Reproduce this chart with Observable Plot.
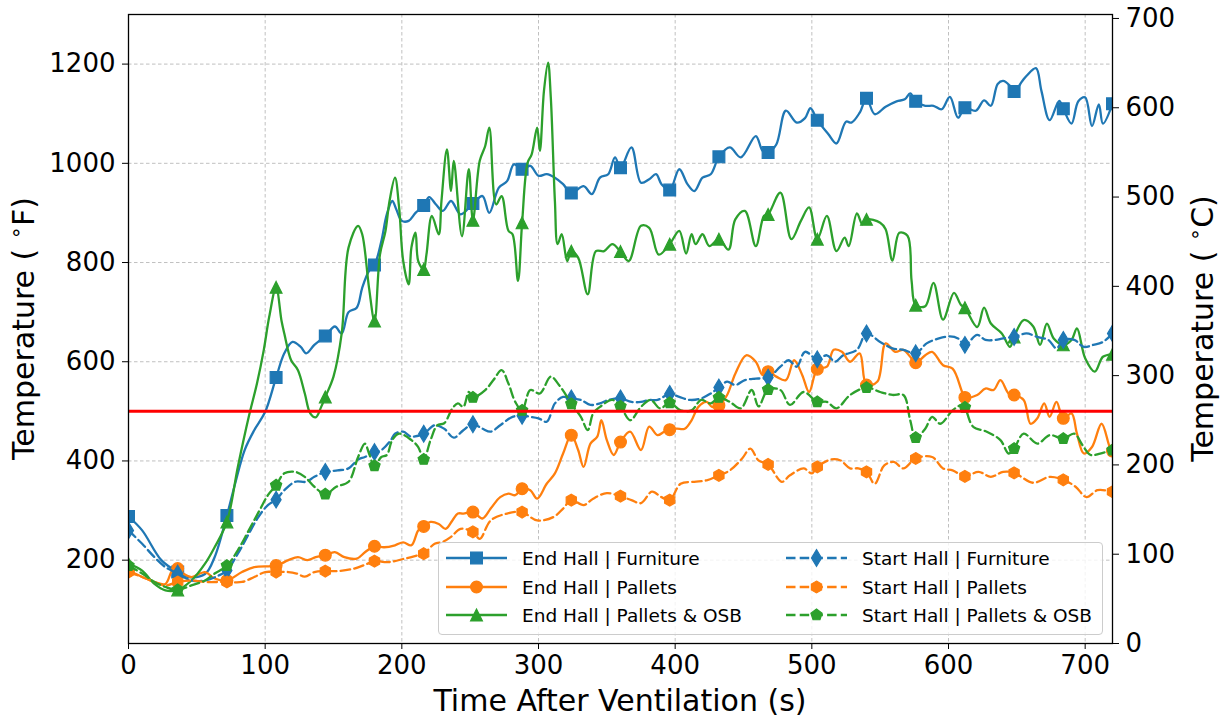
<!DOCTYPE html>
<html>
<head>
<meta charset="utf-8">
<script src="https://cdn.jsdelivr.net/npm/d3@7"></script>
<script src="https://cdn.jsdelivr.net/npm/@observablehq/plot@0.6"></script>
<style>
  body { margin: 0; background: #fff; font-family: "DejaVu Sans", sans-serif; }
  #chart { position: relative; width: 1225px; height: 719px; }
  #legend {
    position: absolute; left: 438px; top: 542px; width: 665px; height: 93px;
    box-sizing: border-box; border: 1px solid #cccccc; border-radius: 4px;
    background: rgba(255, 255, 255, 0.8);
  }
  .item { position: absolute; height: 28px; display: flex; align-items: center; }
  .item span { font-size: 18.5px; color: #000; white-space: nowrap; }
  .item svg { position: absolute; top: 0; }
</style>
</head>
<body>
<div id="chart"></div>
<script>
// Gas temperatures (°F) against time after ventilation (s), [time, temperature]
const endFurniture = [[0,288],[10,260],[24,200],[36,176],[44,166],[56,172],[63,206],[72,290],[78,354],[85,422],[92,462],[100,499],[108,568],[114,617],[120,640],[126,630],[130,617],[136,634],[144,652],[151,671],[156,657],[161,700],[167,709],[171,749],[176,783],[180,795],[185,843],[189,897],[193,924],[196,907],[200,884],[205,884],[210,900],[216,915],[220,932],[225,917],[230,904],[236,924],[243,897],[252,919],[259,934],[264,900],[271,951],[277,964],[282,998],[288,988],[294,995],[300,975],[306,978],[312,971],[318,958],[324,940],[333,954],[339,938],[345,971],[351,978],[356,1012],[360,991],[368,1032],[375,961],[381,968],[386,978],[390,958],[396,946],[403,988],[409,958],[414,944],[420,971],[426,978],[432,1013],[440,1032],[448,1012],[459,1055],[464,1025],[468,1022],[474,1038],[481,1106],[489,1082],[495,1091],[499,1111],[504,1087],[512,1059],[518,1040],[525,1084],[529,1082],[535,1102],[540,1131],[546,1099],[554,1114],[562,1125],[568,1129],[572,1141],[576,1125],[583,1116],[589,1116],[595,1109],[601,1134],[607,1092],[612,1112],[620,1106],[626,1127],[631,1116],[636,1160],[640,1166],[645,1156],[648,1145],[654,1166],[657,1176],[664,1192],[668,1146],[674,1087],[681,1126],[684,1110],[690,1080],[695,1125],[700,1133],[705,1075],[710,1119],[713,1080],[720,1120]];

const endPallets = [[0,179],[10,166],[19,156],[27,152],[32,179],[36,183],[40,173],[46,166],[56,176],[63,163],[72,159],[83,176],[92,186],[108,189],[117,200],[124,206],[131,200],[137,206],[144,210],[151,216],[158,206],[167,203],[173,216],[180,228],[187,226],[195,230],[201,236],[207,230],[212,260],[216,268],[221,277],[227,273],[232,263],[237,280],[241,294],[245,294],[252,297],[259,284],[265,304],[272,327],[278,334],[283,331],[288,344],[294,341],[299,324],[306,354],[312,375],[318,415],[324,452],[329,422],[333,388],[338,435],[343,449],[346,482],[350,442],[355,412],[360,438],[367,459],[375,422],[381,469],[387,452],[392,459],[396,463],[401,465],[407,465],[412,482],[417,509],[423,519],[427,509],[432,512],[438,533],[444,576],[452,613],[459,600],[464,573],[468,580],[474,570],[481,563],[487,603],[493,573],[498,539],[504,585],[511,590],[516,624],[522,620],[528,600],[535,617],[540,553],[548,560],[554,637],[561,620],[567,624],[572,610],[576,598],[583,613],[588,620],[596,593],[603,586],[610,539],[612,528],[621,533],[627,546],[633,543],[638,563],[644,536],[648,533],[655,523],[660,475],[665,486],[670,516],[674,489],[679,519],[684,486],[690,496],[694,455],[699,415],[705,428],[712,475],[718,428],[720,420]];

const endPalletsOsb = [[0,193],[10,179],[19,152],[27,139],[36,140],[46,159],[56,193],[63,226],[72,277],[80,388],[88,489],[94,556],[99,624],[103,691],[108,750],[112,682],[114,657],[119,603],[124,583],[129,536],[133,496],[137,488],[141,509],[144,529],[150,570],[156,657],[161,830],[168,874],[171,857],[176,749],[180,682],[184,816],[188,863],[191,924],[195,971],[198,911],[201,803],[205,756],[207,830],[210,860],[212,803],[216,786],[218,816],[222,894],[227,857],[229,924],[233,1028],[236,944],[238,1005],[244,853],[249,988],[252,885],[257,1005],[261,1035],[264,1072],[269,917],[273,934],[278,864],[281,857],[285,763],[288,880],[292,1001],[295,1018],[299,1072],[301,1025],[304,1146],[307,1203],[309,1133],[312,924],[314,837],[317,857],[321,803],[324,823],[329,810],[336,736],[342,823],[348,823],[354,837],[360,822],[366,803],[375,874],[381,870],[388,816],[396,837],[403,864],[408,818],[412,857],[415,837],[420,857],[425,833],[432,847],[439,826],[444,887],[451,904],[459,833],[465,894],[468,897],[477,941],[485,847],[492,884],[498,911],[504,847],[511,894],[518,823],[524,850],[527,833],[533,899],[537,877],[540,887],[550,880],[554,867],[559,804],[564,860],[570,854],[573,763],[576,714],[583,712],[589,759],[596,685],[604,739],[609,715],[612,709],[621,670],[626,709],[631,677],[639,657],[645,630],[648,650],[655,684],[662,671],[667,634],[672,677],[677,647],[684,634],[690,644],[694,667],[700,607],[707,580],[713,610],[720,615]];

const startFurniture = [[0,260],[10,233],[19,206],[27,186],[36,173],[46,159],[56,159],[66,169],[72,179],[80,213],[88,253],[95,287],[102,311],[108,322],[114,341],[122,358],[130,358],[136,368],[144,378],[153,381],[161,385],[168,403],[173,408],[180,418],[185,422],[192,442],[195,455],[201,459],[207,449],[216,455],[224,472],[231,465],[238,447],[245,462],[252,474],[259,465],[265,459],[272,472],[281,489],[288,491],[294,489],[300,486],[306,479],[312,516],[318,529],[324,526],[331,523],[338,513],[345,516],[351,523],[360,526],[368,519],[375,519],[381,523],[387,523],[396,535],[403,529],[411,523],[419,526],[426,536],[432,548],[438,560],[444,553],[451,563],[459,566],[468,568],[477,590],[483,603],[489,590],[495,620],[504,605],[511,613],[517,600],[523,613],[533,624],[540,657],[550,640],[559,627],[567,624],[576,617],[584,637],[593,647],[601,651],[607,647],[612,634],[621,654],[627,644],[634,644],[640,647],[648,650],[657,657],[665,650],[673,644],[679,627],[684,644],[692,644],[699,630],[706,634],[713,640],[720,657]];

const startPallets = [[0,176],[10,166],[19,156],[27,149],[36,156],[46,159],[56,156],[63,156],[72,156],[83,156],[92,166],[100,176],[108,176],[117,176],[123,173],[129,167],[136,176],[144,178],[153,178],[165,183],[175,193],[180,198],[190,196],[202,203],[212,210],[216,213],[224,233],[230,237],[236,247],[243,263],[252,257],[257,243],[265,280],[277,294],[288,297],[299,280],[311,287],[318,304],[324,321],[333,311],[340,324],[350,335],[360,329],[368,321],[375,315],[383,338],[390,327],[396,321],[404,354],[414,358],[423,361],[432,371],[440,381],[449,405],[455,425],[461,401],[468,393],[478,358],[484,371],[494,385],[500,375],[504,388],[514,403],[521,401],[528,385],[534,385],[540,378],[546,354],[553,391],[560,398],[567,385],[576,405],[588,408],[596,385],[603,381],[612,369],[622,378],[631,368],[640,378],[648,376],[662,356],[674,368],[684,362],[693,348],[701,327],[709,341],[720,338]];

const startPalletsOsb = [[0,189],[10,173],[19,156],[27,146],[36,140],[46,149],[56,159],[63,173],[72,189],[80,220],[88,260],[96,301],[102,331],[108,351],[114,375],[122,378],[129,368],[136,348],[144,333],[152,348],[161,358],[168,408],[173,435],[176,415],[180,390],[185,408],[189,412],[193,442],[198,455],[207,442],[212,428],[216,403],[221,442],[226,472],[231,476],[237,506],[241,516],[245,509],[249,539],[252,528],[261,543],[267,563],[273,583],[278,556],[283,519],[288,502],[294,543],[301,536],[309,570],[315,553],[321,529],[324,515],[331,489],[336,462],[340,496],[345,509],[354,523],[360,510],[367,482],[375,509],[382,523],[389,506],[396,517],[404,502],[412,502],[419,523],[426,516],[432,528],[440,519],[448,506],[456,543],[461,510],[468,544],[477,543],[484,513],[494,539],[504,519],[511,519],[518,506],[528,533],[540,548],[550,539],[559,533],[567,533],[572,482],[576,447],[583,465],[588,489],[594,475],[603,502],[610,513],[612,508],[618,469],[628,459],[638,442],[644,415],[648,425],[655,455],[665,435],[674,452],[684,445],[692,455],[698,432],[704,412],[711,415],[720,422]];

const xTicks = [0, 100, 200, 300, 400, 500, 600, 700];
const yTicksF = [200, 400, 600, 800, 1000, 1200];
const yTicksC = [0, 100, 200, 300, 400, 500, 600, 700];
const thresholdF = 500;
const markerEvery = 36;

// Marker shapes; r is recovered from the dot's area
const rad = size => Math.sqrt(size / Math.PI);
const regularPolygon = n => ({
  draw(ctx, size) {
    const R = rad(size);
    for (let i = 0; i < n; i++) {
      const a = 2 * Math.PI * i / n;
      const x = R * Math.sin(a), y = -R * Math.cos(a);
      if (i) ctx.lineTo(x, y); else ctx.moveTo(x, y);
    }
    ctx.closePath();
  }
});
const symSquare = { draw(ctx, size) { const h = rad(size); ctx.rect(-h, -h, 2 * h, 2 * h); } };
const symCircle = { draw(ctx, size) { const h = rad(size); ctx.moveTo(h, 0); ctx.arc(0, 0, h, 0, 2 * Math.PI); } };
const symTriangle = { draw(ctx, size) { const h = rad(size); ctx.moveTo(0, -h); ctx.lineTo(h, h); ctx.lineTo(-h, h); ctx.closePath(); } };
const symThinDiamond = { draw(ctx, size) { const h = rad(size); ctx.moveTo(0, -1.41 * h); ctx.lineTo(0.85 * h, 0); ctx.lineTo(0, 1.41 * h); ctx.lineTo(-0.85 * h, 0); ctx.closePath(); } };
const symPentagon = regularPolygon(5);
const symHexagon = regularPolygon(6);

const blue = "#1f77b4", orange = "#ff7f0e", green = "#2ca02c";
const series = [
  { name: "End Hall | Furniture", data: endFurniture, color: blue, dashed: false, symbol: symSquare },
  { name: "End Hall | Pallets", data: endPallets, color: orange, dashed: false, symbol: symCircle },
  { name: "End Hall | Pallets & OSB", data: endPalletsOsb, color: green, dashed: false, symbol: symTriangle },
  { name: "Start Hall | Furniture", data: startFurniture, color: blue, dashed: true, symbol: symThinDiamond },
  { name: "Start Hall | Pallets", data: startPallets, color: orange, dashed: true, symbol: symHexagon },
  { name: "Start Hall | Pallets & OSB", data: startPalletsOsb, color: green, dashed: true, symbol: symPentagon }
];
const lineWidth = 2.3, dash = "9.5,4.2", markerR = 5.9;
const fToC = f => (f - 32) * 5 / 9;
const cToF = c => c * 9 / 5 + 32;

const marks = [
  Plot.gridX(xTicks, { stroke: "#b0b0b0", strokeOpacity: 1, strokeWidth: 0.8, strokeDasharray: "3.5,2.5" }),
  Plot.gridY(yTicksF, { stroke: "#b0b0b0", strokeOpacity: 1, strokeWidth: 0.8, strokeDasharray: "3.5,2.5" })
];
for (const s of series) {
  marks.push(Plot.line(s.data, {
    x: d => d[0], y: d => d[1], stroke: s.color, strokeWidth: lineWidth,
    strokeDasharray: s.dashed ? dash : null, curve: "catmull-rom", clip: true
  }));
  marks.push(Plot.dot(s.data.filter(d => d[0] % markerEvery === 0), {
    x: d => d[0], y: d => d[1], symbol: s.symbol, r: markerR,
    fill: s.color, stroke: s.color, strokeWidth: 1.2, clip: true
  }));
}
marks.push(
  Plot.ruleY([thresholdF], { stroke: "#ff0000", strokeWidth: 3 }),
  Plot.axisX(xTicks, { tickSize: 6, tickPadding: 6, fontSize: 26, label: null, tickFormat: d => String(d) }),
  Plot.axisY(yTicksF, { anchor: "left", tickSize: 6, tickPadding: 7, fontSize: 26, label: null, tickFormat: d => String(d) }),
  Plot.axisY(yTicksC.map(cToF), { anchor: "right", tickSize: 6, tickPadding: 7, fontSize: 26, label: null, tickFormat: f => String(Math.round(fToC(f))) }),
  Plot.frame({ stroke: "black", strokeWidth: 1.3 })
);

const chart = Plot.plot({
  width: 1225, height: 719,
  marginLeft: 128, marginRight: 113, marginTop: 14, marginBottom: 76,
  x: { domain: [0, 720] },
  y: { domain: [32, 1300] },
  style: { fontFamily: "DejaVu Sans", fontSize: "26px", color: "black", background: "white" },
  marks
});

// Axis titles, with a raised ring for the degree sign
const svg = d3.select(chart);
function tempTitle(x, unit) {
  const t = svg.append("text")
    .attr("transform", `translate(${x},328.5) rotate(-90)`)
    .attr("text-anchor", "middle")
    .attr("font-family", "DejaVu Sans").attr("font-size", 30).attr("fill", "black");
  t.append("tspan").text("Temperature ( ");
  t.append("tspan").attr("font-size", 21).attr("dy", -11).text("∘");
  t.append("tspan").attr("dy", 11).text(unit + ")");
}
tempTitle(34, "F");
tempTitle(1213, "C");
svg.append("text")
  .attr("x", 620).attr("y", 711)
  .attr("text-anchor", "middle")
  .attr("font-family", "DejaVu Sans").attr("font-size", 30).attr("fill", "black")
  .text("Time After Ventilation (s)");

const holder = document.getElementById("chart");
holder.appendChild(chart);

// Legend: two columns of three entries
const legend = document.createElement("div");
legend.id = "legend";
holder.appendChild(legend);
const rowsTop = [1, 30, 58];
series.forEach((s, i) => {
  const col = Math.floor(i / 3), row = i % 3;
  const item = document.createElement("div");
  item.className = "item";
  item.style.left = (col === 0 ? 7 : 347) + "px";
  item.style.top = rowsTop[row] + "px";
  item.style.width = "320px";
  legend.appendChild(item);
  const sw = d3.select(item).append("svg").attr("width", 62).attr("height", 28).style("left", "0px");
  sw.append("line").attr("x1", 0).attr("x2", 61).attr("y1", 14).attr("y2", 14)
    .attr("stroke", s.color).attr("stroke-width", lineWidth)
    .attr("stroke-dasharray", s.dashed ? dash : null);
  sw.append("path").attr("transform", "translate(30.5,14)")
    .attr("d", d3.symbol(s.symbol, markerR * markerR * Math.PI)())
    .attr("fill", s.color).attr("stroke", s.color).attr("stroke-width", 1.2);
  const label = document.createElement("span");
  label.textContent = s.name;
  label.style.marginLeft = "76px";
  item.appendChild(label);
});
</script>
</body>
</html>
